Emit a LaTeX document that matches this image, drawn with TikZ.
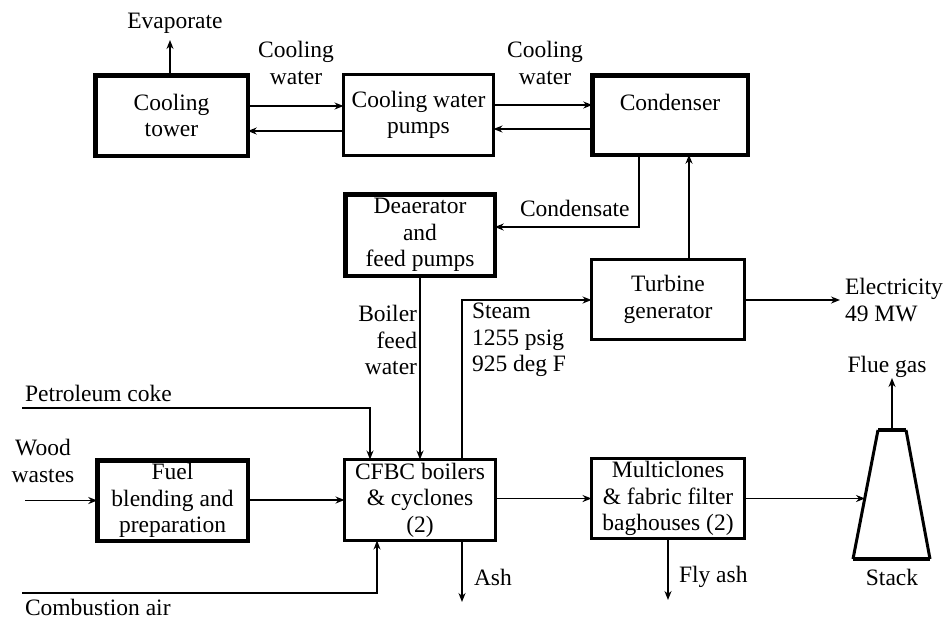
\documentclass[tikz,border=0pt]{standalone}
\usepackage{fontspec}
\setmainfont{Liberation Serif}
\usetikzlibrary{arrows.meta,calc}
\begin{document}
\begin{tikzpicture}[x=1pt,y=-1pt,
  every node/.append style={font=\rmfamily\fontsize{23.5}{26.5}\selectfont, inner sep=0pt, outer sep=0pt},
  box/.style={draw, align=center},
  thickbox/.style={box, line width=4.5pt},
  thinbox/.style={box, line width=3pt},
  conn/.style={line width=1.4pt},
  arr/.style={line width=1.4pt, -{Stealth[length=9pt,width=7pt]}},
  lbl/.style={align=center},
  stackside/.style={line width=3pt, line join=miter},
  stackedge/.style={line width=4.5pt}]
\fill[white] (0,0) rectangle (947,619);
\useasboundingbox (0,0) rectangle (947,619);

% ---- boxes ----
\node[thickbox, minimum width=152.5pt, minimum height=80.5pt] (tower) at (171.5,115.5) {Cooling\\tower};
\node[thinbox, minimum width=150pt, minimum height=81pt] (pumps) at (418.5,115) {Cooling water\\pumps};
\node[thickbox, minimum width=155.5pt, minimum height=79.5pt, text depth=26pt] (condenser) at (670,115) {Condenser};
\node[thickbox, minimum width=149.5pt, minimum height=81.5pt] (deaerator) at (420,235) {Deaerator\\and\\feed pumps};
\node[thinbox, minimum width=153pt, minimum height=80pt] (turbine) at (668,299.5) {Turbine\\generator};
\node[thickbox, minimum width=150.5pt, minimum height=80.5pt] (fuel) at (172.5,500.5) {Fuel\\blending and\\preparation};
\node[thinbox, minimum width=151pt, minimum height=81pt] (cfbc) at (420,500) {CFBC boilers\\\& cyclones\\(2)};
\node[thinbox, minimum width=153pt, minimum height=80pt] (multi) at (668,498.5) {Multiclones\\\& fabric filter\\baghouses (2)};

% ---- stack ----
\coordinate (st1) at (878,430);
\coordinate (st2) at (906,430);
\coordinate (st3) at (930,559);
\coordinate (st4) at (853,559);
\draw[stackside] (st1) -- (st4);
\draw[stackside] (st2) -- (st3);
\draw[stackedge] (st1) -- (st2);
\draw[stackedge] (st4) -- (st3);
\coordinate (stackTop) at (892,430);
\coordinate (stackIn) at (865,498.5);

% ---- labels ----
\node[lbl] (evap) at (175,23) {Evaporate};
\node[lbl] (cw1) at (296,63) {Cooling\\water};
\node[lbl] (cw2) at (545,63) {Cooling\\water};
\node[lbl, anchor=west] (condlbl) at (520,208) {Condensate};
\node[align=right, anchor=east] (bfw) at (417,340) {Boiler\\feed\\water};
\node[align=left, anchor=west] (steamlbl) at (472,340) {Steam\\1255 psig\\925 deg F};
\node[align=left, anchor=west] (elec) at (845,300) {Electricity\\49 MW};
\node[lbl] (flue) at (887,367) {Flue gas};
\node[lbl, anchor=west] (petro) at (25,393) {Petroleum coke};
\node[lbl] (wood) at (43,461) {Wood\\wastes};
\node[lbl, anchor=west] (comb) at (25,607) {Combustion air};
\node[lbl, anchor=west] (ash) at (474,577) {Ash};
\node[lbl, anchor=west] (flyash) at (679,577) {Fly ash};
\node[lbl] (stacklbl) at (892,577) {Stack};

% ---- helper coordinates ----
\coordinate (evapTip) at (170,40);
\coordinate (yA) at (0,106);
\coordinate (yB) at (0,131);
\coordinate (yC) at (0,105);
\coordinate (yD) at (0,129);
\coordinate (condX) at (639,227);
\coordinate (turbX) at (689,0);
\coordinate (steamX) at (462,0);
\coordinate (steamY) at (0,300);
\coordinate (elecTip) at (840,300);
\coordinate (flueTip) at (892,378);
\coordinate (pcStart) at (22,408);
\coordinate (pcX) at (370,0);
\coordinate (woodStart) at (25,500.5);
\coordinate (caStart) at (22,593);
\coordinate (caX) at (377,0);
\coordinate (ashTip) at (462,602);
\coordinate (flyX) at (668,0);
\coordinate (flyTip) at (668,600);

% ---- connectors ----
\draw[arr] (tower.north -| evapTip) -- (evapTip);
\draw[arr] (tower.east |- yA) -- (pumps.west |- yA);
\draw[arr] (pumps.west |- yB) -- (tower.east |- yB);
\draw[arr] (pumps.east |- yC) -- (condenser.west |- yC);
\draw[arr] (condenser.west |- yD) -- (pumps.east |- yD);
\draw[arr] (condenser.south -| condX) -- (condX) -- (deaerator.east |- condX);
\draw[arr] (turbine.north -| turbX) -- (condenser.south -| turbX);
\draw[arr] (deaerator.south) -- (cfbc.north -| deaerator.south);
\draw[arr] (cfbc.north -| steamX) |- (turbine.west |- steamY);
\draw[arr] (turbine.east |- elecTip) -- (elecTip);
\draw[arr] (pcStart) -| (cfbc.north -| pcX);
\draw[arr] (woodStart) -- (fuel.west |- woodStart);
\draw[arr] (fuel.east |- cfbc.west) -- (cfbc.west);
\draw[arr] (caStart) -| (cfbc.south -| caX);
\draw[arr] (cfbc.south -| steamX) -- (ashTip);
\draw[arr] (cfbc.east |- multi.west) -- (multi.west);
\draw[arr] (multi.south -| flyX) -- (flyTip);
\draw[arr] (multi.east) -- (stackIn);
\draw[arr] (stackTop) -- (flueTip);
\end{tikzpicture}
\end{document}
